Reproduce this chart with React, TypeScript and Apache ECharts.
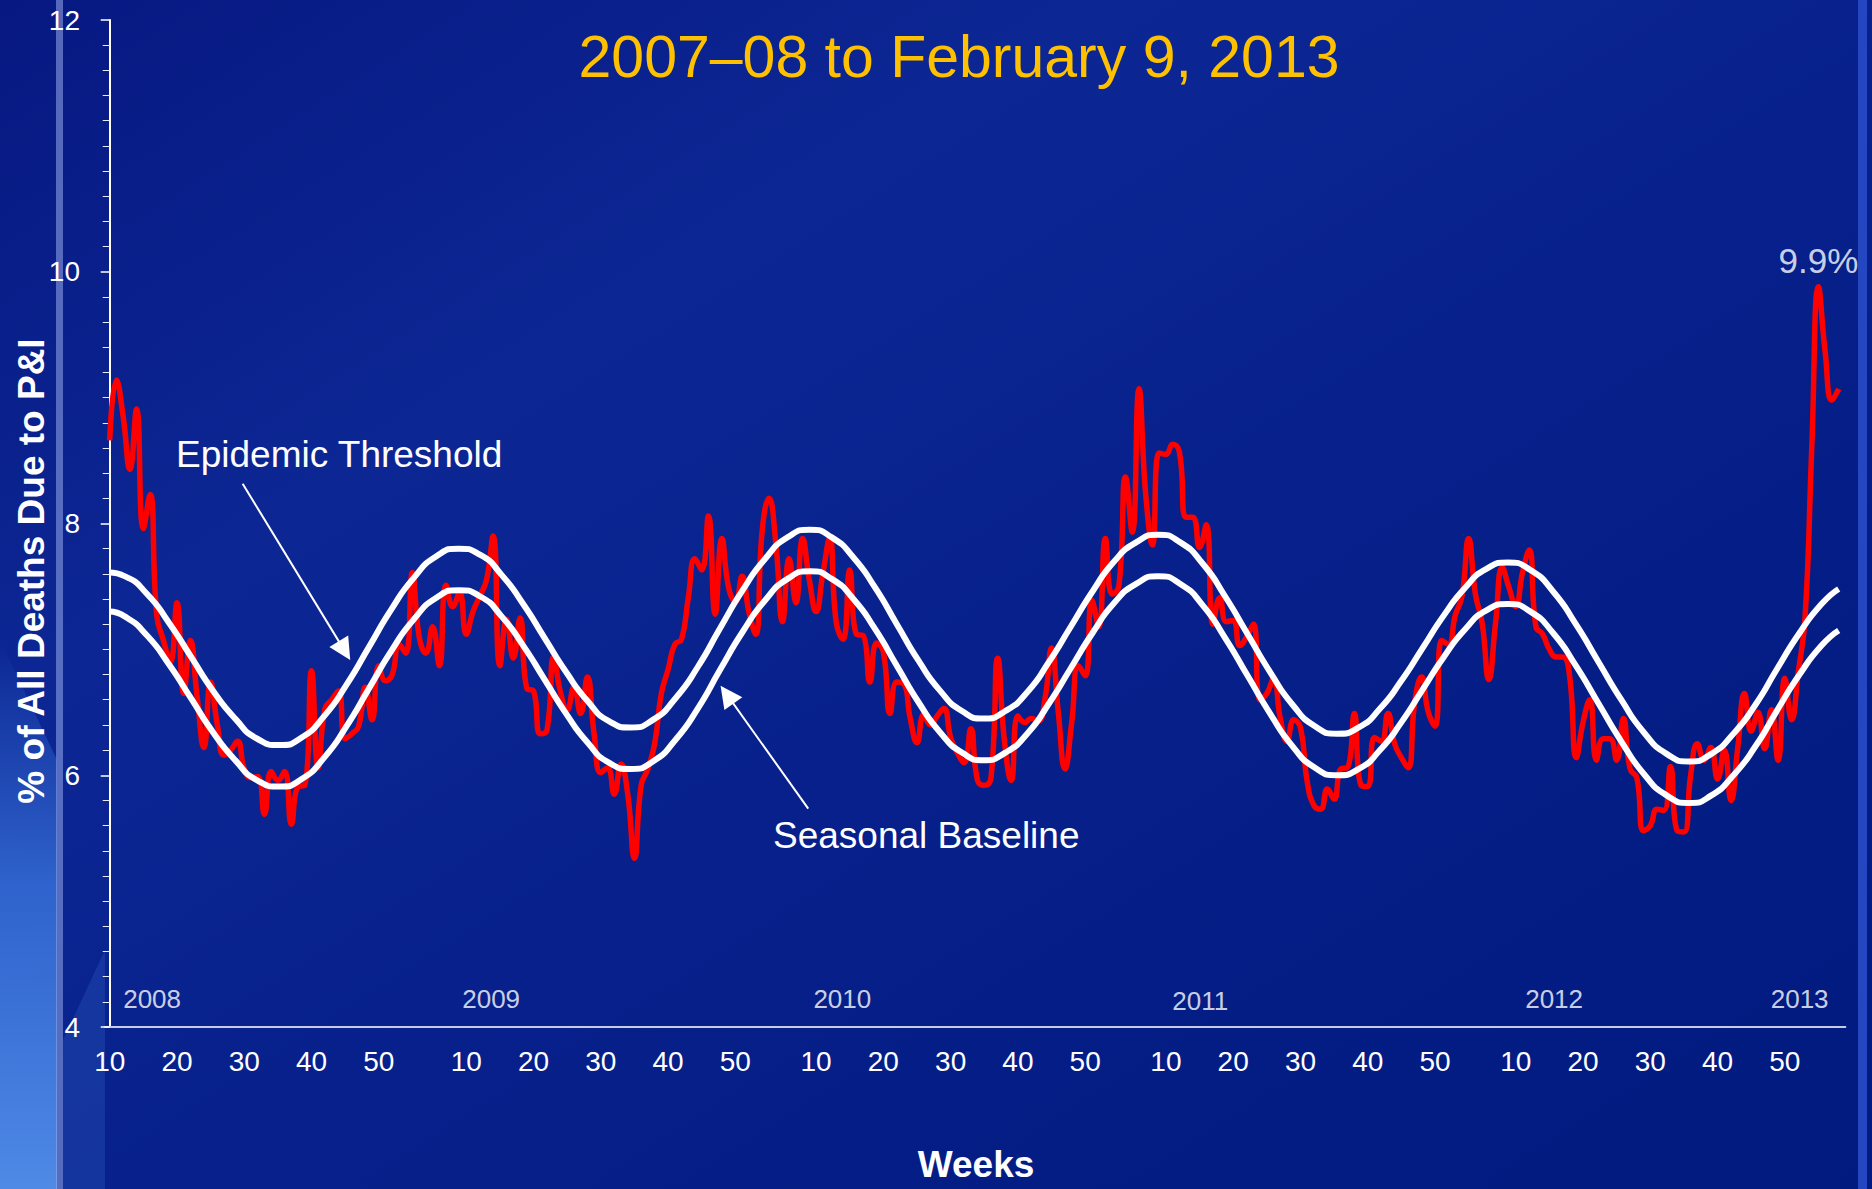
import React, { useEffect, useRef } from "react";
import * as echarts from "echarts";

const FONT = "'Liberation Sans', Arial, Helvetica, sans-serif";

// MMWR years shown and the first week plotted in each
const years = [2008, 2009, 2010, 2011, 2012, 2013];
const firstWeekOfYear = [10, 1, 1, 1, 1, 1];

// % of all deaths due to P&I, weekly
const pi2008 = [8.66, 9.14, 8.85, 8.43, 8.91, 7.96, 8.23, 7.27, 7.07, 6.9,
  7.37, 6.65, 7.07, 6.62, 6.22, 6.74, 6.4, 6.16, 6.2, 6.27,
  6.05, 5.98, 5.99, 5.69, 6.03, 5.96, 6.03, 5.61, 5.91, 5.92,
  6.83, 6.06, 6.53, 6.6, 6.67, 6.29, 6.33, 6.39, 6.7, 6.44,
  6.87, 6.75, 6.8, 7.04];
const pi2009 = [6.97, 7.61, 7.1, 6.97, 7.18, 6.87, 7.51, 7.34, 7.45, 7.12,
  7.3, 7.42, 7.55, 7.9, 6.87, 7.24, 6.93, 7.25, 6.69, 6.67,
  6.33, 6.36, 6.94, 6.66, 6.52, 6.7, 6.49, 6.78, 6.33, 6.02,
  6.06, 5.85, 6.09, 5.85, 5.34, 5.92, 6.05, 6.25, 6.65, 6.84,
  7.04, 7.08, 7.41, 7.72, 7.63, 8.06, 7.28, 7.88, 7.49, 7.38,
  7.58, 7.3];
const pi2010 = [7.12, 7.95, 8.2, 7.85, 7.22, 7.72, 7.37, 7.88, 7.55, 7.3,
  7.6, 7.88, 7.21, 7.08, 7.63, 7.12, 7.11, 6.74, 7.05, 6.98,
  6.49, 6.74, 6.73, 6.45, 6.26, 6.48, 6.4, 6.47, 6.53, 6.3,
  6.18, 6.1, 6.37, 5.96, 5.92, 5.98, 6.93, 6.27, 5.96, 6.47,
  6.42, 6.45, 6.43, 6.6, 7.01, 6.5, 6.05, 6.42, 6.87, 6.79,
  7.39, 7.18];
const pi2011 = [7.88, 7.44, 7.5, 8.37, 7.93, 9.07, 8.23, 7.83, 8.56, 8.55,
  8.63, 8.57, 8.05, 8.05, 7.81, 7.99, 7.2, 7.41, 7.22, 7.23,
  7.03, 7.1, 7.2, 6.6, 6.65, 6.77, 6.45, 6.27, 6.44, 6.38,
  5.95, 5.76, 5.73, 5.89, 5.81, 6.05, 6.06, 6.49, 5.92, 5.91,
  6.3, 6.27, 6.49, 6.25, 6.14, 6.06, 6.59, 6.78, 6.5, 6.39,
  7.07, 7.04];
const pi2012 = [7.27, 7.42, 7.88, 7.44, 7.21, 6.76, 7.21, 7.65, 7.49, 7.34,
  7.61, 7.79, 7.18, 7.12, 7.0, 6.94, 6.94, 6.79, 6.14, 6.42,
  6.6, 6.12, 6.29, 6.29, 6.12, 6.45, 6.05, 5.98, 5.56, 5.6,
  5.73, 5.72, 6.07, 5.56, 5.55, 6.0, 6.25, 6.12, 6.22, 5.97,
  6.2, 5.8, 6.22, 6.65, 6.35, 6.5, 6.21, 6.52, 6.12, 6.77,
  6.44, 6.82];
const pi2013 = [7.25, 8.6, 9.88, 9.36, 8.98, 9.07];
const piByYear = [pi2008, pi2009, pi2010, pi2011, pi2012, pi2013];

// Seasonal baseline & epidemic threshold, read at these week positions
const curveWeekPos = [
  0, 2.28, 5.55, 8.83, 12.1, 15.38, 18.65, 21.93, 25.2,
  28.54, 31.88, 35.21, 38.55, 41.89, 45.23, 48.56, 51.9,
  55.09, 58.28, 61.46, 64.65, 67.84, 71.03, 74.21, 77.4,
  80.74, 84.08, 87.41, 90.75, 94.09, 97.43, 100.76, 104.1,
  107.33, 110.55, 113.78, 117.0, 120.23, 123.45, 126.68, 129.9,
  133.14, 136.38, 139.61, 142.85, 146.09, 149.33, 152.56, 155.8,
  159.14, 162.48, 165.81, 169.15, 172.49, 175.83, 179.16, 182.5,
  185.66, 188.83, 191.99, 195.15, 198.31, 201.48, 204.64, 207.8,
  211.18, 214.55, 217.93, 221.3, 224.68, 228.05, 231.43, 234.8,
  238.08, 241.35, 244.63, 247.9, 251.18, 254.45, 257];
const baselineVals = [
  7.3, 7.26, 7.11, 6.88, 6.61, 6.34, 6.12, 5.96, 5.91,
  5.97, 6.14, 6.39, 6.69, 6.99, 7.24, 7.41, 7.47,
  7.42, 7.26, 7.03, 6.76, 6.49, 6.26, 6.1, 6.05,
  6.11, 6.28, 6.53, 6.84, 7.14, 7.39, 7.56, 7.62,
  7.56, 7.4, 7.16, 6.87, 6.58, 6.34, 6.18, 6.12,
  6.18, 6.33, 6.57, 6.85, 7.13, 7.37, 7.52, 7.58,
  7.52, 7.35, 7.09, 6.79, 6.49, 6.23, 6.06, 6.0,
  6.05, 6.2, 6.42, 6.68, 6.94, 7.16, 7.31, 7.36,
  7.3, 7.13, 6.87, 6.57, 6.27, 6.01, 5.84, 5.78,
  5.84, 6.0, 6.23, 6.52, 6.8, 7.03, 7.15];
const thresholdVals = [
  7.61, 7.58, 7.44, 7.21, 6.94, 6.67, 6.45, 6.29, 6.24,
  6.3, 6.47, 6.72, 7.02, 7.32, 7.57, 7.74, 7.8,
  7.75, 7.59, 7.36, 7.09, 6.82, 6.59, 6.43, 6.38,
  6.44, 6.61, 6.86, 7.17, 7.47, 7.72, 7.89, 7.95,
  7.89, 7.73, 7.49, 7.2, 6.91, 6.67, 6.51, 6.45,
  6.51, 6.66, 6.9, 7.18, 7.46, 7.7, 7.85, 7.91,
  7.85, 7.68, 7.42, 7.12, 6.82, 6.56, 6.39, 6.33,
  6.38, 6.53, 6.75, 7.01, 7.27, 7.49, 7.64, 7.69,
  7.63, 7.46, 7.2, 6.9, 6.6, 6.34, 6.17, 6.11,
  6.17, 6.33, 6.56, 6.85, 7.13, 7.36, 7.48];

// year captions placed along the time axis (week position)
const yearLabelPos = [6.3, 56.7, 108.9, 162.1, 214.7, 251.2];

const yTickLabels = [4, 6, 8, 10, 12];

export default function App() {
  const ref = useRef<HTMLDivElement>(null);

  useEffect(() => {
    if (!ref.current) return;
    const chart = echarts.init(ref.current, undefined, { renderer: "svg" });

    const weekAt: number[] = [];
    const piData: number[][] = [];
    years.forEach((y, k) => {
      piByYear[k].forEach((v, j) => {
        const idx = weekAt.length;
        weekAt.push(firstWeekOfYear[k] + j);
        piData.push([idx, v]);
      });
    });
    const labelIdx = weekAt
      .map((w, i) => (w % 10 === 0 ? i : -1))
      .filter((i) => i >= 0);

    let maxI = 0;
    piData.forEach((p, i) => {
      if (p[1] > piData[maxI][1]) maxI = i;
    });

    const baselineData = curveWeekPos.map((x, i) => [x, baselineVals[i]]);
    const thresholdData = curveWeekPos.map((x, i) => [x, thresholdVals[i]]);
    const yearData = years.map((y, i) => ({ value: [yearLabelPos[i], y === 2011 ? 4.21 : 4.22], name: String(y) }));

    const bgGrad = new echarts.graphic.LinearGradient(0, 0, 1, 1, [
      { offset: 0, color: "#071882" },
      { offset: 0.3, color: "#0c2794" },
      { offset: 0.55, color: "#07208b" },
      { offset: 1, color: "#011a7f" },
    ]);
    const leftGrad = new echarts.graphic.LinearGradient(0, 0, 0, 1, [
      { offset: 0, color: "rgba(60,120,225,0)" },
      { offset: 0.45, color: "rgba(60,120,225,0.75)" },
      { offset: 1, color: "#4f8ae6" },
    ]);

    const option: any = {
      animation: false,
      grid: { left: 105, right: 26.6, top: 20, bottom: 162, outerBoundsMode: "none" },
      xAxis: {
        type: "value",
        min: -0.7,
        max: 258,
        axisLine: { show: true, onZero: false, lineStyle: { color: "#c5cbe3", width: 2 } },
        axisTick: { show: false },
        splitLine: { show: false },
        axisLabel: {
          customValues: labelIdx,
          formatter: (v: number) => String(weekAt[Math.round(v)]),
          color: "#ffffff",
          fontSize: 28,
          fontFamily: FONT,
          margin: 20,
        },
      },
      yAxis: {
        type: "value",
        min: yTickLabels[0],
        max: yTickLabels[yTickLabels.length - 1],
        interval: 2,
        axisLine: { show: true, lineStyle: { color: "#ffffff", width: 2 } },
        axisTick: { show: true, length: 9, lineStyle: { color: "#ffffff", width: 1.5 } },
        minorTick: { show: true, splitNumber: 10, length: 7, lineStyle: { color: "#e8ecff", width: 1 } },
        splitLine: { show: false },
        minorSplitLine: { show: false },
        axisLabel: { color: "#ffffff", fontSize: 28, fontFamily: FONT, margin: 25 },
      },
      series: [
        {
          name: "P&I",
          type: "line",
          data: piData,
          showSymbol: false,
          smooth: true,
          lineStyle: { color: "#ff0000", width: 5.5 },
          z: 2,
        },
        {
          name: "Epidemic Threshold",
          type: "line",
          data: thresholdData,
          showSymbol: false,
          smooth: 0.6,
          lineStyle: { color: "#ffffff", width: 6 },
          z: 3,
        },
        {
          name: "Seasonal Baseline",
          type: "line",
          data: baselineData,
          showSymbol: false,
          smooth: 0.6,
          lineStyle: { color: "#ffffff", width: 6 },
          z: 3,
          markLine: {
            silent: true,
            symbol: ["none", "triangle"],
            symbolSize: 22,
            lineStyle: { color: "#ffffff", width: 2, type: "solid" },
            label: { show: false },
            data: [
              [{ coord: [19.76, 8.316] }, { coord: [34.9, 6.99] }],
              [{ coord: [103.83, 5.735] }, { coord: [91.75, 6.64] }],
            ],
          },
        },
        {
          name: "years",
          type: "scatter",
          data: yearData,
          symbolSize: 1,
          itemStyle: { color: "rgba(0,0,0,0)" },
          label: {
            show: true,
            position: "inside",
            formatter: "{b}",
            color: "#ffffff",
            fontSize: 26,
            fontFamily: FONT,
          },
          z: 4,
        },
        {
          name: "peak",
          type: "scatter",
          data: [{ value: piData[maxI], name: "peak" }],
          symbolSize: 1,
          itemStyle: { color: "rgba(0,0,0,0)" },
          label: {
            show: true,
            position: "top",
            distance: 8,
            formatter: (p: any) => p.value[1].toFixed(1) + "%",
            color: "#ffffff",
            fontSize: 35,
            fontFamily: FONT,
          },
          z: 4,
        },
      ],
      graphic: [
        { type: "rect", z: -30, silent: true, shape: { x: 0, y: 0, width: 1872, height: 1189 }, style: { fill: bgGrad } },
        {
          type: "polygon", z: -29, silent: true,
          shape: { points: [[0, 640], [57, 760], [57, 1189], [0, 1189]] },
          style: { fill: leftGrad },
        },
        {
          type: "polygon", z: -29, silent: true,
          shape: { points: [[63, 1040], [105, 950], [105, 1189], [63, 1189]] },
          style: { fill: "rgba(60,110,210,0.25)" },
        },
        { type: "rect", z: -28, silent: true, shape: { x: 56, y: 0, width: 7, height: 1189 }, style: { fill: "rgba(150,170,235,0.55)" } },
        { type: "rect", z: -28, silent: true, shape: { x: 1858, y: 0, width: 9, height: 1189 }, style: { fill: "#2446c0" } },
        {
          type: "text", z: 20, x: 959, y: 57,
          style: { text: "2007\u201308 to February 9, 2013", fill: "#ffc000", font: `59px ${FONT}`, align: "center", verticalAlign: "middle" },
        },
        {
          type: "text", z: 20, x: 31, y: 571, rotation: Math.PI / 2,
          style: { text: "% of All Deaths Due to P&I", fill: "#ffffff", font: `bold 37px ${FONT}`, align: "center", verticalAlign: "middle" },
        },
        {
          type: "text", z: 20, x: 976, y: 1164,
          style: { text: "Weeks", fill: "#ffffff", font: `bold 37px ${FONT}`, align: "center", verticalAlign: "middle" },
        },
        {
          type: "text", z: 20, x: 176, y: 454,
          style: { text: "Epidemic Threshold", fill: "#ffffff", font: `37px ${FONT}`, align: "left", verticalAlign: "middle" },
        },
        {
          type: "text", z: 20, x: 773, y: 835,
          style: { text: "Seasonal Baseline", fill: "#ffffff", font: `37px ${FONT}`, align: "left", verticalAlign: "middle" },
        },
      ],
    };

    chart.setOption(option);
    return () => chart.dispose();
  }, []);

  return <div ref={ref} style={{ position: "absolute", left: 0, top: 0, width: 1872, height: 1189 }} />;
}
